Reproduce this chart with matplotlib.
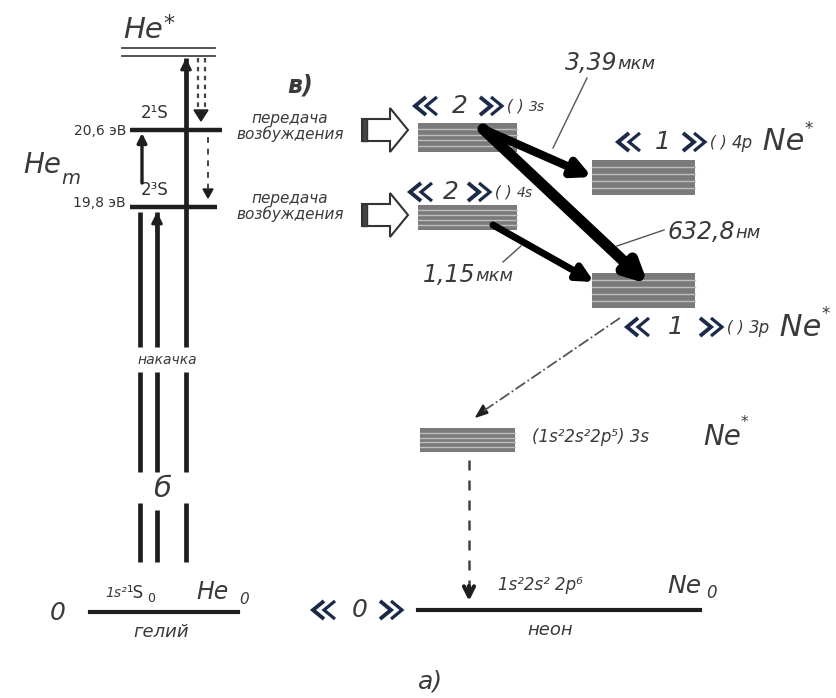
import matplotlib.pyplot as plt
from matplotlib.patches import Rectangle, Polygon

plt.rcParams['font.family'] = ['DejaVu Sans']

W, H = 837, 698

# He levels (y position in picture pixels, 0 at top)
he_star_y = [48, 56]
he_level_names = ["2¹S", "2³S"]
he_level_energy = ["20,6 эВ", "19,8 эВ"]
he_level_y = [130, 207]
he_level_x0 = [130, 130]
he_level_x1 = [222, 217]
he_ground_y = 612

# pumping lines (x), their tops, and the gaps for the labels
pump_x = [140, 157, 186]
pump_top = [212, 212, 58]
pump_gaps = [(347, 372), (472, 503)]
pump_bottom = 562

# Ne level blocks: x0, x1, y0, y1
ne_names = ["3s", "4s", "4p", "3p", "low3s"]
ne_x0 = [418, 418, 592, 592, 420]
ne_x1 = [517, 517, 695, 695, 515]
ne_y0 = [123, 205, 160, 273, 428]
ne_y1 = [152, 230, 195, 308, 452]
ne_ground_y = 610

# level labels «n» ( ) orb
lab_num = ["2", "2", "1", "1"]
lab_orb = ["3s", "4s", "4p", "3p"]
lab_x = [415, 410, 618, 627]
lab_y = [106, 192, 142, 327]
lab_w = [87, 80, 87, 95]
lab_ne = [False, False, True, True]

# laser transitions: (from, to), wavelength label, width
las_from = [(483, 129), (483, 129), (493, 225)]
las_to = [(592, 177), (648, 284), (594, 282)]
las_lw = [6, 8, 5]
las_num = ["3,39", "632,8", "1,15"]
las_unit = ["мкм", "нм", "мкм"]
las_text_xy = [(565, 63), (668, 232), (423, 275)]
las_lead = [((587, 78), (553, 148)), ((664, 230), (617, 246)), ((503, 262), (521, 246))]

fig = plt.figure(figsize=(W / 100, H / 100), dpi=100)
ax = fig.add_axes([0, 0, 1, 1])
ax.set_xlim(0, W)
ax.set_ylim(H, 0)
ax.axis('off')
renderer = fig.canvas.get_renderer()

it = dict(style='italic', color='#3a3a3a')
dark = '#1e1e1e'
navy = '#1c2a4a'


def text_run(x, y, parts):
    # parts: (string, size, dy); places pieces one after another
    for s, size, dy in parts:
        t = ax.text(x, y + dy, s, size=size, ha='left', va='center', **it)
        x += t.get_window_extent(renderer).width
    return x


def guil(x, y, left, h=18, w=11, step=11):
    for k in range(2):
        x0 = x + k * step
        if left:
            xs = [x0 + w, x0, x0 + w]
        else:
            xs = [x0, x0 + w, x0]
        ax.plot(xs, [y - h / 2, y, y + h / 2], lw=2.8 - k * 0.5, color=navy,
                solid_joinstyle='miter', solid_capstyle='butt')


# ---------- helium ----------
for y in he_star_y:
    ax.plot([122, 215], [y, y], lw=1.3, color='#444')
ax.text(163, 30, "He", size=21, ha='right', va='center', **it)
ax.text(163, 24, "*", size=16, ha='left', va='center', **it)

for name, en, y, x0, x1 in zip(he_level_names, he_level_energy, he_level_y, he_level_x0, he_level_x1):
    ax.plot([x0, x1], [y, y], lw=3.2, color=dark, solid_capstyle='butt')
    ax.text(126, y - 4 if y > 150 else y + 1, en, size=10, ha='right', va='center', color='#333')
    ax.text(155, y - 17, name, size=12, ha='center', va='center', color='#333')

ax.text(42, 165, "He", size=20, ha='center', va='center', **it)
ax.text(71, 179, "m", size=14, ha='center', va='center', **it)

ax.plot([90, 238], [he_ground_y, he_ground_y], lw=3, color=dark)
ax.text(58, 613, "0", size=18, ha='center', va='center', **it)
ax.text(161, 632, "гелий", size=13, ha='center', va='center', **it)
ax.text(105, 593, "1s²", size=10, ha='left', va='center', **it)
ax.text(127, 593, "¹S", size=12, ha='left', va='center', color='#333')
ax.text(147, 598, "0", size=9, ha='left', va='center', color='#333')
ax.text(196, 592, "He", size=17, ha='left', va='center', **it)
ax.text(239, 599, "0", size=11, ha='left', va='center', **it)

# pumping lines with gaps
for i, (x, top) in enumerate(zip(pump_x, pump_top)):
    starts = [top, pump_gaps[0][1], pump_gaps[1][1] + (7 if i == 1 else 0)]
    ends = [pump_gaps[0][0], pump_gaps[1][0], pump_bottom]
    for s, e in zip(starts, ends):
        ax.plot([x, x], [s, e], lw=3.4, color=dark, solid_capstyle='butt')
    if i > 0:
        ax.annotate('', xy=(x, top), xytext=(x, top + 20),
                    arrowprops=dict(arrowstyle='-|>', lw=2, color=dark,
                                    mutation_scale=16, shrinkA=0, shrinkB=0))
ax.annotate('', xy=(142, 133), xytext=(142, 183),
            arrowprops=dict(arrowstyle='-|>', lw=2.4, color=dark,
                            mutation_scale=14, shrinkA=0, shrinkB=0))
ax.text(167, 360, "накачка", size=10, ha='center', va='center', **it)
ax.text(162, 489, "б", size=21, ha='center', va='center', **it)

# dashed decay He* -> 2^1S -> 2^3S
for x in [198, 205]:
    ax.plot([x, x], [58, 112], ls=(0, (2, 2)), lw=1.6, color='#444')
ax.add_patch(Polygon([[194, 110], [208, 110], [201, 121]], closed=True, color=dark))
ax.plot([208, 208], [137, 190], ls=(0, (3, 3)), lw=1.4, color='#444')
ax.add_patch(Polygon([[203, 189], [213, 189], [208, 198]], closed=True, color=dark))

# ---------- energy transfer ----------
for yc, yt in zip([130, 215], [125, 205]):
    ax.text(290, yt - 7, "передача", size=11, ha='center', va='center', **it)
    ax.text(290, yt + 9, "возбуждения", size=11, ha='center', va='center', **it)
    pts = [[362, yc - 11], [390, yc - 11], [390, yc - 22], [408, yc],
           [390, yc + 22], [390, yc + 11], [362, yc + 11]]
    ax.add_patch(Polygon(pts, closed=True, facecolor='white', edgecolor='#333', lw=1.5))
    ax.add_patch(Rectangle((362, yc - 11), 5, 22, facecolor='#444', edgecolor='#333', lw=1))

ax.text(300, 86, "в)", size=17, weight='bold', ha='center', va='center', **it)

# ---------- neon ----------
for x0, x1, y0, y1 in zip(ne_x0, ne_x1, ne_y0, ne_y1):
    ax.add_patch(Rectangle((x0, y0), x1 - x0, y1 - y0, facecolor='#7a7a7a', edgecolor='none'))
    n = 4
    for k in range(1, n + 1):
        yy = y0 + (y1 - y0) * k / (n + 1)
        ax.plot([x0, x1], [yy, yy], lw=1.0, color='#bdbdbd')

for num, orb, x, y, w, ne in zip(lab_num, lab_orb, lab_x, lab_y, lab_w, lab_ne):
    guil(x, y, True)
    ax.text(x + w / 2 + 1, y, num, size=18, ha='center', va='center', **it)
    guil(x + w - 22, y, False)
    parts = [(" ( ) ", 11, 0), (orb, 12 if ne else 10, 1)]
    if ne:
        parts += [(" Ne", 22, 0), ("*", 12, -13)]
    text_run(x + w, y, parts)

text_run(532, 437, [("(1s²2s²2p⁵) 3s", 12, 0)])
text_run(703, 437, [("Ne", 20, 0), ("*", 11, -14)])

# laser lines
for (xa, ya), (xb, yb), lw in zip(las_from, las_to, las_lw):
    ax.annotate('', xy=(xb, yb), xytext=(xa, ya),
                arrowprops=dict(arrowstyle='-|>', lw=lw, color='black',
                                mutation_scale=14 + lw * 2, shrinkA=0, shrinkB=0))
for num, unit, (tx, ty), (p, q) in zip(las_num, las_unit, las_text_xy, las_lead):
    text_run(tx, ty, [(num, 17, 0), (unit, 13, 1)])
    ax.plot([p[0], q[0]], [p[1], q[1]], lw=1, color='#555')

# relaxation 3p -> 3s (dash-dot), 3s -> ground (dashed)
ax.plot([620, 482], [318, 412], ls='-.', lw=1.3, color='#555')
ax.add_patch(Polygon([[476, 417], [483, 405], [488, 413]], closed=True, color=dark))
ax.plot([469, 469], [460, 590], ls=(0, (4, 4)), lw=1.8, color='#444')
ax.annotate('', xy=(469, 601), xytext=(469, 586),
            arrowprops=dict(arrowstyle='->', lw=3, color=dark,
                            mutation_scale=18, shrinkA=0, shrinkB=0))

ax.plot([418, 700], [ne_ground_y, ne_ground_y], lw=3, color=dark)
guil(313, 610, True)
ax.text(360, 610, "0", size=18, ha='center', va='center', **it)
guil(380, 610, False)
ax.text(498, 585, "1s²2s² 2p⁶", size=12, ha='left', va='center', **it)
ax.text(667, 586, "Ne", size=18, ha='left', va='center', **it)
ax.text(706, 593, "0", size=12, ha='left', va='center', **it)
ax.text(550, 630, "неон", size=13, ha='center', va='center', **it)

ax.text(431, 682, "а)", size=18, ha='center', va='center', **it)

fig.savefig("out.png", dpi=100)
